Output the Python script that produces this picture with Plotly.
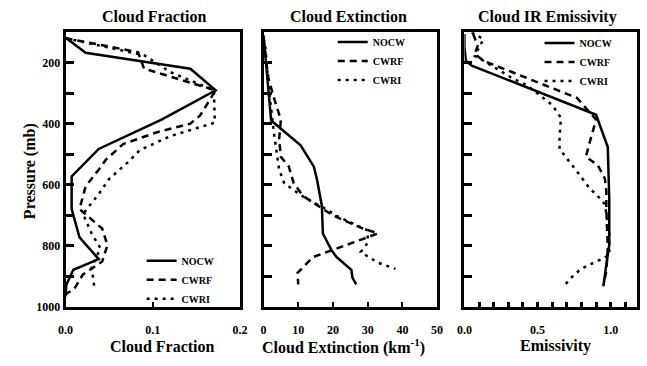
import plotly.graph_objects as go

# ---------------- data ----------------
series_names = ["NOCW", "CWRF", "CWRI"]

# Cloud fraction panel
frac_nocw_p = [119, 167, 219, 290, 386, 482, 572, 679, 772, 843, 878, 926, 965]
frac_nocw_x = [0.001, 0.023, 0.143, 0.172, 0.11, 0.038, 0.007, 0.007, 0.016, 0.038, 0.009, 0.001, 0.0]
frac_cwrf_p = [119, 140, 165, 219, 290, 373, 399, 428, 466, 518, 550, 605, 679, 743, 797, 851, 893, 941, 958]
frac_cwrf_x = [0.0, 0.04, 0.083, 0.09, 0.172, 0.154, 0.143, 0.104, 0.066, 0.046, 0.038, 0.023, 0.016, 0.042, 0.048, 0.042, 0.02, 0.01, 0.0]
frac_cwri_p = [119, 150, 175, 230, 290, 396, 440, 486, 524, 580, 630, 695, 760, 807, 870, 936]
frac_cwri_x = [0.0, 0.05, 0.09, 0.12, 0.17, 0.171, 0.12, 0.085, 0.072, 0.05, 0.038, 0.02, 0.03, 0.04, 0.03, 0.033]

# Cloud extinction panel (km^-1)
ext_nocw_p = [110, 250, 389, 470, 540, 582, 669, 759, 814, 836, 878, 904, 926]
ext_nocw_x = [0.0, 1.0, 2.2, 10.7, 14.5, 15.4, 16.8, 17.1, 19.6, 21.0, 25.3, 25.6, 26.7]
ext_cwrf_p = [120, 250, 315, 386, 450, 508, 540, 595, 637, 700, 740, 759, 790, 836, 888, 926]
ext_cwrf_x = [0.0, 1.4, 3.0, 5.0, 4.5, 5.0, 7.3, 8.7, 11.5, 20.0, 28.0, 33.0, 25.5, 14.3, 9.8, 10.0]
ext_cwri_p = [120, 145, 280, 430, 550, 595, 643, 679, 701, 749, 790, 820, 855, 875]
ext_cwri_x = [0.0, 0.5, 1.5, 3.0, 4.5, 6.0, 12.0, 18.0, 21.0, 30.0, 30.0, 28.0, 33.0, 38.0]

# Cloud IR emissivity panel
emi_nocw_p = [105, 150, 193, 209, 370, 476, 646, 797, 861, 932]
emi_nocw_x = [0.0, 0.0, 0.01, 0.05, 0.9, 0.98, 0.99, 0.99, 0.97, 0.95]
emi_cwrf_p = [105, 145, 171, 193, 315, 347, 386, 454, 508, 534, 579, 621, 679, 807, 884, 926]
emi_cwrf_x = [0.06, 0.09, 0.07, 0.13, 0.77, 0.83, 0.9, 0.86, 0.83, 0.91, 0.96, 0.97, 0.97, 0.98, 0.97, 0.95]
emi_cwri_p = [100, 122, 177, 193, 251, 274, 338, 380, 444, 482, 556, 614, 630, 663, 760, 830, 852, 862, 878, 904, 926]
emi_cwri_x = [0.05, 0.13, 0.07, 0.13, 0.33, 0.43, 0.6, 0.66, 0.65, 0.65, 0.77, 0.86, 0.9, 0.96, 0.99, 0.99, 0.9, 0.85, 0.79, 0.73, 0.69]

panel_titles = ["Cloud Fraction", "Cloud Extinction", "Cloud IR Emissivity"]
x_titles = ["Cloud Fraction", "Cloud Extinction (km<sup>-1</sup>)", "Emissivity"]
y_title = "Pressure (mb)"

# ---------------- figure ----------------
FONT = "Times New Roman, Liberation Serif, serif"
W, H = 647, 366
styles = [dict(color="black", width=2.5),
          dict(color="black", width=2.5, dash="7px,5px"),
          dict(color="black", width=2.5, dash="3px,5px")]

panels = [
    [(frac_nocw_x, frac_nocw_p), (frac_cwrf_x, frac_cwrf_p), (frac_cwri_x, frac_cwri_p)],
    [(ext_nocw_x, ext_nocw_p), (ext_cwrf_x, ext_cwrf_p), (ext_cwri_x, ext_cwri_p)],
    [(emi_nocw_x, emi_nocw_p), (emi_cwrf_x, emi_cwrf_p), (emi_cwri_x, emi_cwri_p)],
]

fig = go.Figure()
for i, panel in enumerate(panels):
    suffix = "" if i == 0 else str(i + 1)
    for j, (xs, ps) in enumerate(panel):
        fig.add_trace(go.Scatter(
            x=xs, y=ps, mode="lines", name=series_names[j],
            line=styles[j], xaxis="x" + suffix, yaxis="y" + suffix,
            legend="legend" + suffix, showlegend=True))

px = lambda v: v / W
py = lambda v: 1 - v / H
xdoms = [[px(59), px(238)], [px(262), px(440)], [px(468), px(645)]]
ydom = [py(313), py(33)]

tickfont = dict(family=FONT, size=12, color="black", weight="bold")
common_axis = dict(showline=True, linewidth=3, linecolor="black", mirror=True,
                   showgrid=False, zeroline=False, ticks="inside",
                   tickcolor="black", tickfont=tickfont)

xcfg = [
    dict(range=[0, 0.2], tickvals=[0, 0.1, 0.2], ticktext=["0.0", "0.1", "0.2"], ticklen=5, tickwidth=2),
    dict(range=[0, 50], tickvals=[0, 10, 20, 30, 40, 50], ticklen=5, tickwidth=2),
    dict(range=[0, 1.18], tickvals=[0, 0.5, 1.0], ticktext=["0.0", "0.5", "1.0"], ticklen=5, tickwidth=2,
         minor=dict(dtick=0.1, tick0=0, ticks="inside", ticklen=5, tickwidth=3, tickcolor="black")),
]

layout = dict(width=W, height=H, margin=dict(l=0, r=0, t=0, b=0),
              paper_bgcolor="white", plot_bgcolor="white",
              font=dict(family=FONT, size=11, color="black", weight="bold"))

for i in range(3):
    suffix = "" if i == 0 else str(i + 1)
    xa = dict(common_axis, domain=xdoms[i], anchor="y" + suffix, ticklabelstandoff=10, **xcfg[i])
    ya = dict(common_axis, domain=ydom, anchor="x" + suffix, range=[1000, 100],
              tickvals=[200, 400, 600, 800, 1000], ticklen=8, tickwidth=3,
              minor=dict(dtick=100, tick0=0, ticks="inside", ticklen=8, tickwidth=3, tickcolor="black"),
              showticklabels=(i == 0), ticklabelstandoff=0)
    layout["xaxis" + suffix] = xa
    layout["yaxis" + suffix] = ya

legpos = [(px(137), py(251)), (px(333), py(28)), (px(545), py(29))]
for i in range(3):
    suffix = "" if i == 0 else str(i + 1)
    layout["legend" + suffix] = dict(x=legpos[i][0], y=legpos[i][1], xanchor="left", yanchor="top",
                                     bgcolor="rgba(0,0,0,0)", borderwidth=0,
                                     font=dict(family=FONT, size=10, color="black", weight="bold"),
                                     tracegroupgap=0, itemwidth=30)

annotations = []
title_x = [150, 349, 553]
for i in range(3):
    annotations.append(dict(text=panel_titles[i], x=px(title_x[i]), y=py(17), xref="paper", yref="paper",
                            showarrow=False, xanchor="center", yanchor="middle",
                            font=dict(family=FONT, size=16, color="black", weight="bold")))
xt_x = [158, 344, 561]
for i in range(3):
    annotations.append(dict(text=x_titles[i], x=px(xt_x[i]), y=py(353), xref="paper", yref="paper",
                            showarrow=False, xanchor="center", yanchor="middle",
                            font=dict(family=FONT, size=16, color="black", weight="bold")))
annotations.append(dict(text=y_title, x=px(22), y=py(174), xref="paper", yref="paper", textangle=-90,
                        showarrow=False, xanchor="center", yanchor="middle",
                        font=dict(family=FONT, size=16, color="black", weight="bold")))
layout["annotations"] = annotations

fig.update_layout(**layout)
fig.write_html("out.html")
